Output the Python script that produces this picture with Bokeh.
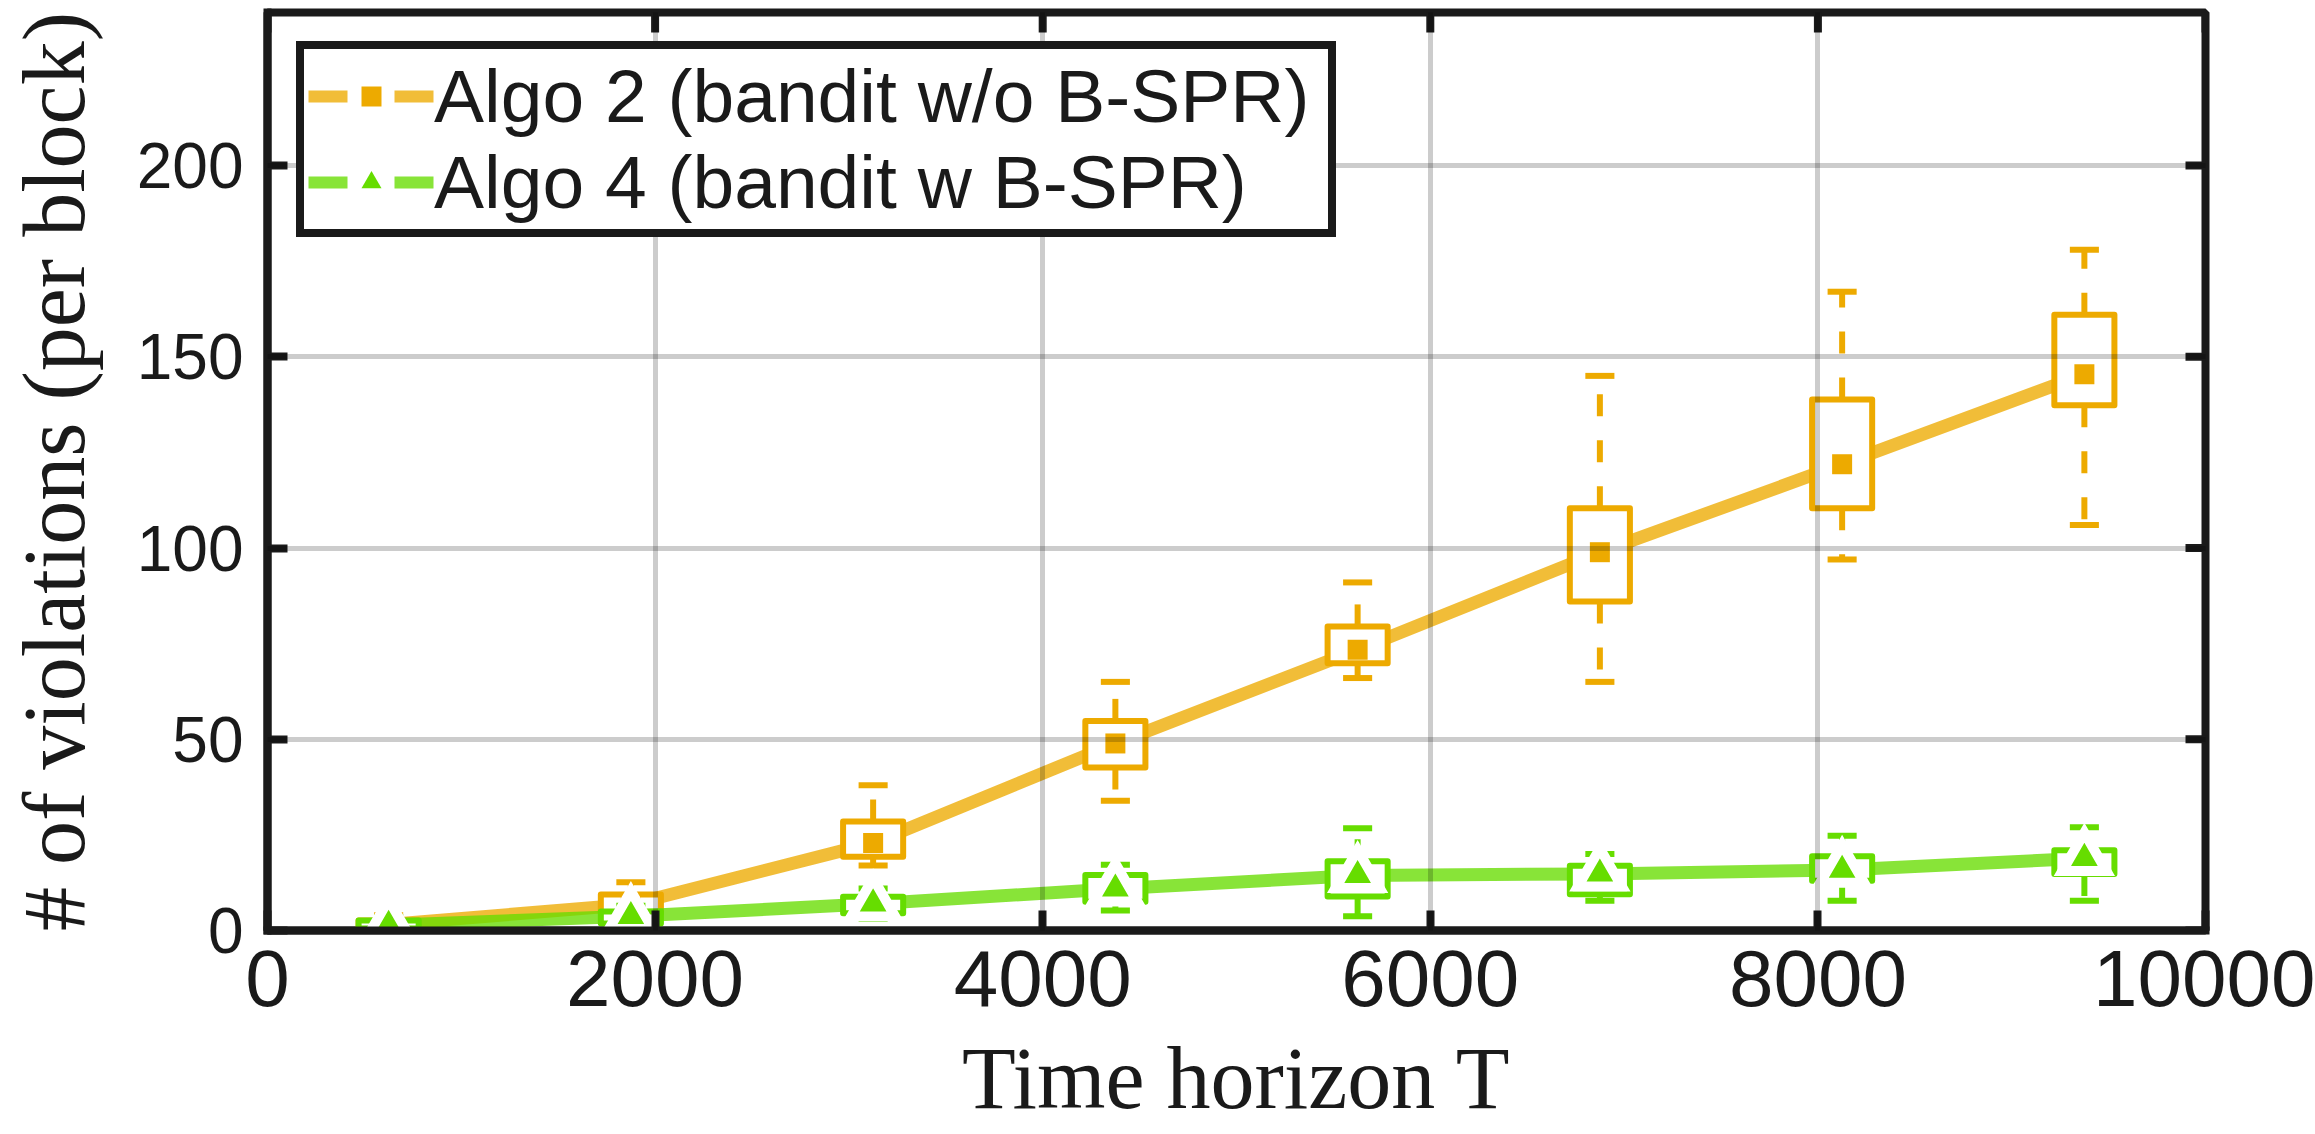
import numpy as np
from bokeh.plotting import figure
from bokeh.models import (ColumnDataSource, FixedTicker, Range1d,
                          Legend, LegendItem)
from bokeh.embed import file_html
from bokeh.resources import INLINE

# ---- data: violations per block over the time horizon ----
horizon = [625, 1875, 3125, 4375, 5625, 6875, 8125, 9375]

series_labels = ["Algo 2 (bandit w/o B-SPR)", "Algo 4 (bandit w B-SPR)"]

algo2_mean = [1.6, 6.8, 22.9, 48.9, 73.4, 98.9, 121.9, 145.4]
algo2_q1 = [0.6, 4.5, 19.3, 42.6, 69.9, 86.0, 110.4, 137.3]
algo2_q3 = [2.6, 9.4, 28.5, 54.8, 79.5, 110.4, 138.8, 161.0]
algo2_lo = [0.0, 2.0, 17.0, 33.9, 66.0, 65.0, 97.0, 106.0]
algo2_hi = [4.0, 12.6, 38.0, 65.0, 91.0, 145.0, 167.0, 178.0]

algo4_mean = [1.4, 3.7, 7.0, 10.9, 14.4, 14.8, 15.8, 18.9]
algo4_q1 = [0.5, 1.8, 4.5, 7.5, 8.9, 9.5, 13.0, 14.8]
algo4_q3 = [2.6, 5.0, 8.8, 14.5, 18.1, 16.9, 19.4, 21.0]
algo4_lo = [0.0, 0.8, 3.0, 5.2, 3.7, 7.8, 7.8, 7.8]
algo4_hi = [3.5, 6.5, 11.0, 17.2, 26.7, 20.0, 24.8, 27.0]

x_ticks = [0, 2000, 4000, 6000, 8000, 10000]
y_ticks = [0, 50, 100, 150, 200]

# ---- styling ----
W, H = 2315, 1134
BORDER_L, BORDER_R, BORDER_T, BORDER_B = 267, 110, 12, 204
X_MAX, Y_MAX = 10000, 240
INK = "#1a1a1a"
ORANGE = "#EDAA00"
GREEN = "#66DD00"
LINE_ALPHA = 0.78
BOX_HALF = 155     # half box width, in horizon units
CAP_HALF = 75      # half whisker-cap width
TICK_LEN = 20      # inward tick length in pixels

p = figure(width=W, height=H, output_backend="svg", toolbar_location=None,
           x_range=Range1d(0, X_MAX), y_range=Range1d(0, Y_MAX),
           min_border_left=BORDER_L, min_border_right=BORDER_R,
           min_border_top=BORDER_T, min_border_bottom=BORDER_B,
           background_fill_color="white", border_fill_color="white")
p.outline_line_color = INK
p.outline_line_width = 8
p.outline_line_alpha = 1.0


def style_axis(ax, ticks, font_size, standoff):
    ax.ticker = FixedTicker(ticks=ticks)
    ax.axis_line_color = INK
    ax.axis_line_width = 8
    ax.axis_line_cap = "square"
    ax.major_tick_line_color = INK
    ax.major_tick_line_width = 8
    ax.major_tick_in = TICK_LEN
    ax.major_tick_out = 0
    ax.minor_tick_line_color = None
    ax.major_label_text_font = "Liberation Sans"
    ax.major_label_text_font_size = font_size
    ax.major_label_text_color = INK
    ax.major_label_standoff = standoff
    ax.axis_label_text_font = "Liberation Serif"
    ax.axis_label_text_font_style = "normal"
    ax.axis_label_text_color = INK


xax = p.xaxis[0]
yax = p.yaxis[0]
style_axis(xax, x_ticks, "80px", 20)
style_axis(yax, y_ticks, "64px", 24)
xax.axis_label = "Time horizon T"
xax.axis_label_text_font_size = "88px"
xax.axis_label_standoff = 21
yax.axis_label = "# of violations (per block)"
yax.axis_label_text_font_size = "88px"
yax.axis_label_standoff = 31

p.xgrid.ticker = FixedTicker(ticks=x_ticks)
p.ygrid.ticker = FixedTicker(ticks=y_ticks)
for g in (p.xgrid[0], p.ygrid[0]):
    g.grid_line_color = "black"
    g.grid_line_alpha = 0.2
    g.grid_line_width = 5
    g.level = "guide"


def draw_series(mean, q1, q3, lo, hi, color, marker, msize, edge_w):
    t = np.array(horizon, dtype=float)
    src = ColumnDataSource(dict(
        t=t, mean=mean, q1=q1, q3=q3, lo=lo, hi=hi,
        bl=t - BOX_HALF, br=t + BOX_HALF, cl=t - CAP_HALF, cr=t + CAP_HALF))
    p.line("t", "mean", source=src, line_color=color, line_alpha=LINE_ALPHA,
           line_width=13, line_join="round")
    p.quad(left="bl", right="br", bottom="q1", top="q3", source=src,
           fill_color="white", line_color=color, line_width=6, line_join="round")
    p.segment(x0="t", y0="q3", x1="t", y1="hi", source=src, line_color=color,
              line_width=6, line_dash="22 24")
    p.segment(x0="t", y0="q1", x1="t", y1="lo", source=src, line_color=color,
              line_width=6, line_dash="22 24")
    p.segment(x0="cl", y0="hi", x1="cr", y1="hi", source=src, line_color=color,
              line_width=6)
    p.segment(x0="cl", y0="lo", x1="cr", y1="lo", source=src, line_color=color,
              line_width=6)
    if edge_w > 0:
        p.scatter("t", "mean", source=src, marker=marker, size=msize,
                  fill_color=color, line_color="white", line_width=edge_w,
                  line_join="miter")
    else:
        p.scatter("t", "mean", source=src, marker=marker, size=msize,
                  fill_color=color, line_color=None)


draw_series(algo2_mean, algo2_q1, algo2_q3, algo2_lo, algo2_hi,
            ORANGE, "square", 20, 0)
draw_series(algo4_mean, algo4_q1, algo4_q3, algo4_lo, algo4_hi,
            GREEN, "triangle", 44, 10)

# inward ticks along the top and right edges of the box
frame_w = W - BORDER_L - BORDER_R
frame_h = H - BORDER_T - BORDER_B
dy_tick = TICK_LEN * Y_MAX / frame_h
dx_tick = TICK_LEN * X_MAX / frame_w
top_src = ColumnDataSource(dict(x=x_ticks, y0=[Y_MAX] * len(x_ticks),
                                y1=[Y_MAX - dy_tick] * len(x_ticks)))
right_src = ColumnDataSource(dict(y=y_ticks, x0=[X_MAX] * len(y_ticks),
                                  x1=[X_MAX - dx_tick] * len(y_ticks)))
p.segment(x0="x", y0="y0", x1="x", y1="y1", source=top_src,
          line_color=INK, line_width=8)
p.segment(x0="x0", y0="y", x1="x1", y1="y", source=right_src,
          line_color=INK, line_width=8)

# legend swatches: dashed line with the series marker (NaN rows draw nothing)
items = []
for label, color, marker in zip(series_labels, [ORANGE, GREEN], ["square", "triangle"]):
    swatch = ColumnDataSource(dict(x=[np.nan], y=[np.nan]))
    ln = p.line("x", "y", source=swatch, line_color=color, line_alpha=LINE_ALPHA,
                line_width=12, line_dash="39 47")
    mk = p.scatter("x", "y", source=swatch, marker=marker, fill_color=color,
                   line_color=None)
    items.append(LegendItem(label=label, renderers=[ln, mk]))

legend = Legend(items=items, location="top_left", margin=29, padding=4,
                spacing=-8, glyph_width=126, glyph_height=50, label_height=60,
                label_width=890, label_standoff=0,
                label_text_font="Liberation Sans",
                label_text_font_size="75px", label_text_color=INK,
                border_line_color=INK, border_line_width=8,
                border_line_alpha=1.0,
                background_fill_color="white", background_fill_alpha=1.0)
p.add_layout(legend)

open("out.html", "w").write(file_html(p, INLINE))
